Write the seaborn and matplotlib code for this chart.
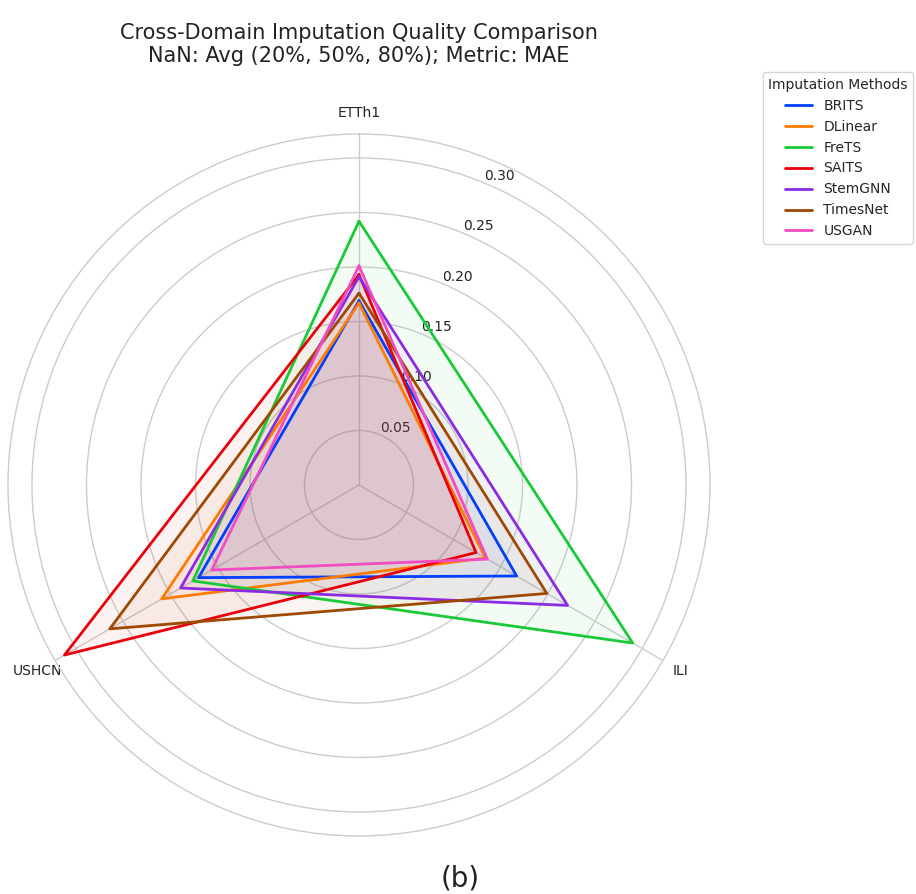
import numpy as np
import matplotlib
matplotlib.use("Agg")
import matplotlib.pyplot as plt
import seaborn as sns

# Datasets (radar axes) and imputation methods
datasets = ["ETTh1", "ILI", "USHCN"]
methods = ["BRITS", "DLinear", "FreTS", "SAITS", "StemGNN", "TimesNet", "USGAN"]

# Average MAE over 20%, 50%, 80% missing rates, per dataset
brits = [0.169, 0.167, 0.170]
dlinear = [0.167, 0.134, 0.209]
frets = [0.242, 0.290, 0.176]
saits = [0.193, 0.124, 0.312]
stemgnn = [0.191, 0.221, 0.189]
timesnet = [0.176, 0.199, 0.264]
usgan = [0.201, 0.136, 0.156]

series = [brits, dlinear, frets, saits, stemgnn, timesnet, usgan]
radial_ticks = [0.05, 0.10, 0.15, 0.20, 0.25, 0.30]

sns.set_theme(style="whitegrid")
plt.rcParams["font.family"] = ["DejaVu Sans"]
palette = sns.color_palette("bright", len(methods))

fig = plt.figure(figsize=(9.16, 8.94), dpi=100)
ax = fig.add_axes([0.0087, 0.0649, 0.7664, 0.7852], projection="polar")
ax.set_theta_offset(np.pi / 2)
ax.set_theta_direction(-1)

angles = np.linspace(0, 2 * np.pi, len(datasets), endpoint=False)
closed = np.concatenate([angles, angles[:1]])

max_val = max(max(s) for s in series)
for name, vals, color in zip(methods, series, palette):
    v = np.concatenate([vals, vals[:1]])
    ax.plot(closed, v, color=color, linewidth=2, label=name)
    ax.fill(closed, v, color=color, alpha=0.05)

ax.set_ylim(0, max_val + 0.01)
ax.set_xticks(angles)
ax.set_xticklabels(datasets, fontsize=10, color="#222222")
ax.tick_params(axis="x", pad=2)
ax.set_yticks(radial_ticks)
ax.set_yticklabels([f"{t:.2f}" for t in radial_ticks], fontsize=10, color="#222222")
ax.set_rlabel_position(22.5)
ax.grid(color="#cccccc", linewidth=1)
ax.spines["polar"].set_color("#cccccc")
ax.spines["polar"].set_linewidth(1)

ax.set_title("Cross-Domain Imputation Quality Comparison\nNaN: Avg (20%, 50%, 80%); Metric: MAE",
             fontsize=15, color="#222222", pad=52)

leg = ax.legend(title="Imputation Methods", loc="upper left",
                bbox_to_anchor=(1.065, 1.098), fontsize=10, title_fontsize=10,
                frameon=True)
leg.get_frame().set_edgecolor("#cccccc")

fig.text(0.502, 0.002, "(b)", fontsize=20, ha="center", va="bottom", color="#222222")

fig.savefig("out.png", dpi=100)
